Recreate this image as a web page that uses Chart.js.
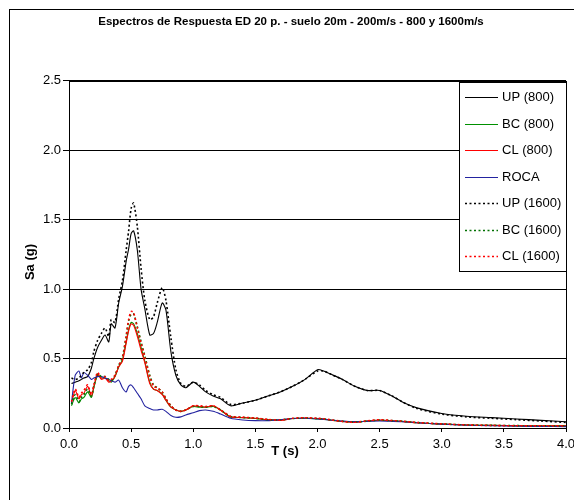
<!DOCTYPE html>
<html>
<head>
<meta charset="utf-8">
<script src="https://cdn.jsdelivr.net/npm/chart.js@4"></script>
<style>
  html, body { margin: 0; padding: 0; background: #fff; }
  #wrap { width: 574px; height: 500px; }
</style>
</head>
<body>
<div id="wrap"><canvas id="chart" width="574" height="500"></canvas></div>
<script>
// periodo T (s)
const periods = [0.02, 0.05, 0.08, 0.10, 0.12, 0.15, 0.18, 0.20, 0.23, 0.26, 0.29, 0.32, 0.34, 0.37, 0.40,
    0.43, 0.46, 0.48, 0.50, 0.52, 0.55, 0.58, 0.61, 0.65, 0.68, 0.71, 0.75, 0.78, 0.82, 0.86,
    0.90, 0.94, 1.00, 1.05, 1.10, 1.16, 1.22, 1.30, 1.40, 1.50, 1.60, 1.70, 1.80, 1.90, 2.00,
    2.05, 2.10, 2.20, 2.30, 2.40, 2.50, 2.60, 2.70, 2.80, 3.00, 3.20, 3.40, 3.60, 3.80, 4.00];

// Sa (g)
const up800 = [0.32, 0.33, 0.34, 0.35, 0.36, 0.37, 0.43, 0.50, 0.58, 0.63, 0.67, 0.62, 0.75, 0.72, 0.90,
    1.02, 1.20, 1.29, 1.40, 1.42, 1.28, 1.00, 0.86, 0.67, 0.68, 0.76, 0.90, 0.85, 0.55, 0.38,
    0.31, 0.29, 0.33, 0.30, 0.26, 0.23, 0.21, 0.16, 0.18, 0.20, 0.23, 0.26, 0.30, 0.35, 0.42,
    0.41, 0.39, 0.35, 0.30, 0.27, 0.27, 0.23, 0.18, 0.145, 0.105, 0.085, 0.075, 0.065, 0.055, 0.045];
const bc800 = [0.16, 0.22, 0.18, 0.21, 0.22, 0.26, 0.22, 0.29, 0.38, 0.36, 0.36, 0.34, 0.33, 0.37, 0.44,
    0.49, 0.62, 0.71, 0.76, 0.75, 0.68, 0.58, 0.48, 0.33, 0.28, 0.27, 0.245, 0.20, 0.15, 0.13,
    0.12, 0.13, 0.155, 0.15, 0.15, 0.155, 0.13, 0.08, 0.075, 0.068, 0.06, 0.058, 0.068, 0.07, 0.066,
    0.064, 0.058, 0.048, 0.042, 0.05, 0.056, 0.052, 0.046, 0.038, 0.028, 0.022, 0.019, 0.017, 0.016, 0.015];
const cl800 = [0.18, 0.27, 0.21, 0.24, 0.25, 0.30, 0.23, 0.30, 0.39, 0.35, 0.36, 0.33, 0.34, 0.37, 0.44,
    0.48, 0.61, 0.70, 0.75, 0.74, 0.66, 0.56, 0.47, 0.32, 0.28, 0.27, 0.24, 0.20, 0.15, 0.13,
    0.12, 0.13, 0.16, 0.155, 0.15, 0.16, 0.13, 0.08, 0.075, 0.07, 0.06, 0.055, 0.068, 0.072, 0.068,
    0.065, 0.058, 0.047, 0.04, 0.05, 0.058, 0.052, 0.046, 0.038, 0.028, 0.022, 0.019, 0.017, 0.016, 0.015];
const roca = [0.18, 0.38, 0.41, 0.36, 0.40, 0.38, 0.35, 0.36, 0.37, 0.37, 0.36, 0.35, 0.34, 0.33, 0.345,
    0.29, 0.26, 0.30, 0.31, 0.29, 0.25, 0.21, 0.16, 0.14, 0.13, 0.13, 0.135, 0.12, 0.09, 0.077,
    0.08, 0.094, 0.11, 0.125, 0.13, 0.12, 0.10, 0.07, 0.058, 0.053, 0.053, 0.06, 0.068, 0.07, 0.065,
    0.062, 0.058, 0.05, 0.046, 0.048, 0.05, 0.048, 0.045, 0.038, 0.028, 0.02, 0.016, 0.013, 0.011, 0.01];
const up1600 = [0.36, 0.35, 0.36, 0.38, 0.40, 0.42, 0.47, 0.55, 0.63, 0.68, 0.72, 0.66, 0.78, 0.76, 0.93,
    1.06, 1.28, 1.42, 1.58, 1.62, 1.45, 1.15, 0.92, 0.78, 0.80, 0.90, 1.01, 0.92, 0.65, 0.42,
    0.32, 0.30, 0.33, 0.31, 0.27, 0.24, 0.22, 0.17, 0.18, 0.20, 0.23, 0.26, 0.30, 0.35, 0.41,
    0.41, 0.39, 0.35, 0.30, 0.27, 0.27, 0.23, 0.18, 0.14, 0.10, 0.08, 0.07, 0.06, 0.05, 0.04];
const bc1600 = [0.17, 0.24, 0.19, 0.22, 0.24, 0.28, 0.23, 0.30, 0.39, 0.37, 0.37, 0.35, 0.34, 0.38, 0.45,
    0.51, 0.66, 0.77, 0.82, 0.82, 0.73, 0.62, 0.52, 0.38, 0.31, 0.29, 0.26, 0.21, 0.16, 0.13,
    0.12, 0.13, 0.155, 0.155, 0.15, 0.155, 0.13, 0.082, 0.076, 0.07, 0.06, 0.058, 0.068, 0.072, 0.068,
    0.065, 0.058, 0.048, 0.042, 0.05, 0.057, 0.053, 0.047, 0.039, 0.029, 0.022, 0.019, 0.017, 0.016, 0.015];
const cl1600 = [0.19, 0.28, 0.22, 0.25, 0.27, 0.31, 0.24, 0.31, 0.40, 0.36, 0.37, 0.34, 0.35, 0.38, 0.45,
    0.50, 0.66, 0.78, 0.84, 0.83, 0.72, 0.61, 0.51, 0.37, 0.30, 0.29, 0.26, 0.21, 0.16, 0.13,
    0.12, 0.13, 0.16, 0.16, 0.155, 0.16, 0.13, 0.085, 0.078, 0.072, 0.062, 0.057, 0.07, 0.074, 0.07,
    0.066, 0.06, 0.048, 0.041, 0.052, 0.06, 0.054, 0.048, 0.04, 0.03, 0.022, 0.018, 0.016, 0.015, 0.014];

const xTicks = [0, 0.5, 1, 1.5, 2, 2.5, 3, 3.5, 4];
const yTicks = [0, 0.5, 1, 1.5, 2, 2.5];

const FONT = "'Liberation Sans', Arial, sans-serif";

function series(label, values, color, dotted) {
    return {
        label: label,
        data: values.map((v, i) => ({ x: periods[i], y: v })),
        borderColor: color,
        backgroundColor: color,
        borderWidth: dotted ? 1.6 : 1.1,
        borderDash: dotted ? [2, 2.5] : [],
        pointRadius: 0,
        tension: 0.25,
        fill: false,
    };
}

const datasets = [
    series('UP (800)', up800, '#000000', false),
    series('BC (800)', bc800, '#009000', false),
    series('CL (800)', cl800, '#ff0000', false),
    series('ROCA', roca, '#2323a0', false),
    series('UP (1600)', up1600, '#000000', true),
    series('BC (1600)', bc1600, '#007000', true),
    series('CL (1600)', cl1600, '#ff0000', true),
];
// later series on top, like the original
datasets.forEach((d, i) => { d.order = datasets.length - i; });

// frame, box around the plot, axis titles and the legend inside the plot
const decor = {
    id: 'decor',
    beforeDraw(chart) {
        const c = chart.ctx;
        c.save();
        c.fillStyle = '#fff';
        c.fillRect(0, 0, chart.width, chart.height);
        c.strokeStyle = '#000';
        c.lineWidth = 1;
        c.strokeRect(9.5, 9.5, chart.width + 20, chart.height + 20);
        c.restore();
    },
    afterDraw(chart) {
        const c = chart.ctx;
        const a = chart.chartArea;
        c.save();
        c.strokeStyle = '#000';
        c.lineWidth = 1;
        c.strokeRect(Math.round(a.left) + 0.5, Math.round(a.top) + 0.5,
            Math.round(a.right - a.left), Math.round(a.bottom - a.top));

        // axis titles
        c.fillStyle = '#000';
        c.font = 'bold 13px ' + FONT;
        c.textAlign = 'center';
        c.textBaseline = 'middle';
        c.fillText('T (s)', 285, 451);
        c.translate(30, 262);
        c.rotate(-Math.PI / 2);
        c.fillText('Sa (g)', 0, 0);
        c.setTransform(1, 0, 0, 1, 0, 0);

        // legend box
        const lx = 459, ly = 82, lw = 107, lh = 189;
        c.fillStyle = '#fff';
        c.fillRect(lx, ly, lw, lh);
        c.strokeStyle = '#000';
        c.strokeRect(lx + 0.5, ly + 0.5, lw, lh);
        c.font = '13px ' + FONT;
        c.textAlign = 'left';
        chart.data.datasets.forEach((d, i) => {
            const y = Math.round(ly + 15 + i * 26.5) + 0.5;
            c.strokeStyle = d.borderColor;
            c.lineWidth = d.borderDash.length ? 1.6 : 1;
            c.setLineDash(d.borderDash);
            c.beginPath();
            c.moveTo(465, y);
            c.lineTo(498, y);
            c.stroke();
            c.setLineDash([]);
            c.fillStyle = '#000';
            c.fillText(d.label, 502, y);
        });
        c.restore();
    }
};

const ctx = document.getElementById('chart').getContext('2d');
const chart = new Chart(ctx, {
    type: 'line',
    data: { datasets: datasets },
    plugins: [decor],
    options: {
        responsive: false,
        animation: false,
        layout: { padding: { left: 16, right: 8, top: 0, bottom: 0 } },
        plugins: {
            legend: { display: false },
            tooltip: { enabled: false },
            title: {
                display: true,
                text: 'Espectros de Respuesta ED 20 p. - suelo 20m - 200m/s - 800 y 1600m/s',
                color: '#000',
                font: { family: FONT, size: 11.5, weight: 'bold' },
                padding: { top: 15, bottom: 52 },
            },
        },
        scales: {
            x: {
                type: 'linear',
                min: 0,
                max: 4,
                afterFit: (s) => { s.height = 72; s.paddingLeft = 0; s.paddingRight = 0; },
                afterBuildTicks: (s) => { s.ticks = xTicks.map(v => ({ value: v })); },
                border: { display: true, color: '#000', width: 1 },
                grid: { drawOnChartArea: false, drawTicks: true, tickLength: 4, color: '#000' },
                ticks: {
                    color: '#000',
                    font: { family: FONT, size: 13 },
                    padding: 5,
                    maxRotation: 0,
                    callback: (v) => Number(v).toFixed(1),
                },
            },
            y: {
                type: 'linear',
                min: 0,
                max: 2.5,
                afterFit: (s) => { s.width = 53; },
                afterBuildTicks: (s) => { s.ticks = yTicks.map(v => ({ value: v })); },
                border: { display: true, color: '#000', width: 1 },
                grid: { color: '#000', lineWidth: 1, tickLength: 6 },
                ticks: {
                    color: '#000',
                    font: { family: FONT, size: 13 },
                    padding: 2,
                    callback: (v) => Number(v).toFixed(1),
                },
            },
        },
    },
});
</script>
</body>
</html>
